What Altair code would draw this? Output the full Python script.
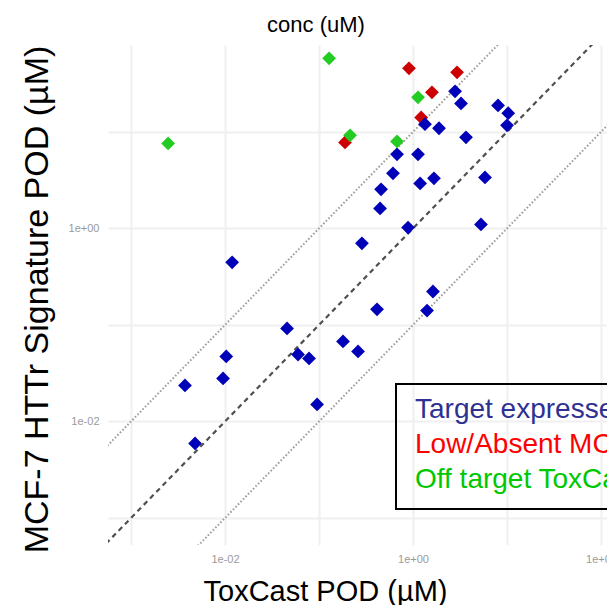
import altair as alt
import pandas as pd

# ---- data (µM) ----
blue_x = [2.80, 3.24, 8.02, 10.3, 10.0, 1.34, 1.89, 3.66, 0.676, 1.13, 0.612, 1.19,
          1.67, 5.83, 0.457, 0.446, 0.885, 5.28, 0.286, 0.0119, 1.63, 0.414, 1.41,
          0.0457, 0.180, 0.0598, 0.0783, 0.260, 0.0103, 0.00953, 0.00375, 0.0953, 0.00480]
blue_y = [26.3, 19.7, 18.8, 15.6, 11.7, 12.0, 10.9, 8.77, 5.85, 5.85, 3.72, 2.92,
          3.30, 3.37, 2.54, 1.61, 1.02, 1.10, 0.700, 0.445, 0.222, 0.145, 0.141,
          0.0920, 0.0675, 0.0494, 0.0450, 0.0531, 0.0472, 0.0279, 0.0236, 0.0150, 0.00592]
red_x = [0.906, 2.94, 1.59, 1.22, 0.189]
red_y = [45.5, 41.4, 25.7, 14.1, 7.78]
green_x = [0.128, 0.00248, 0.214, 0.676, 1.13]
green_y = [57.8, 7.60, 9.2, 7.97, 22.8]

groups = ["Low/Absent", "Target", "Off target"]
group_colors = ["#CC0000", "#0000B8", "#22CC22"]

legend_labels = ["Target expressed in MCF-7 cells",
                 "Low/Absent MCF-7 expression",
                 "Off target ToxCast assays"]
legend_colors = ["#2E3192", "#FF0000", "#00C800"]

df = pd.DataFrame({
    "toxcast": red_x + blue_x + green_x,
    "httr": red_y + blue_y + green_y,
    "group": ["Low/Absent"] * len(red_x) + ["Target"] * len(blue_x) + ["Off target"] * len(green_x),
})
df["order"] = df["group"].map({g: i for i, g in enumerate(groups)})

# reference lines: y = x, y = 10x, y = x/10
ref = pd.DataFrame({
    "x": [1e-4, 1e3] * 3,
    "y": [1e-4, 1e3, 1e-3, 1e4, 1e-5, 1e2],
    "kind": ["equal", "equal", "upper", "upper", "lower", "lower"],
})

XMIN, XMAX = 10 ** -3.245, 10 ** 2.0636
YMIN, YMAX = 10 ** -3.28, 10 ** 1.9

x_scale = alt.Scale(type="log", domain=[XMIN, XMAX], nice=False)
y_scale = alt.Scale(type="log", domain=[YMIN, YMAX], nice=False)

FONT = "Liberation Sans"

x_axis = alt.Axis(
    values=[0.001, 0.01, 0.1, 1, 10, 100],
    labelExpr="datum.value == 0.01 ? '1e-02' : datum.value == 1 ? '1e+00' : datum.value == 100 ? '1e+02' : ''",
    ticks=False, domain=False, grid=True, gridColor="#F0F0F0", gridWidth=2,
    labelColor="#9A9A9A", labelFontSize=11, labelFont=FONT, labelPadding=8,
    labelOverlap=False, labelFlush=False,
    title="ToxCast POD (µM)", titleFont=FONT, titleFontSize=29, titleFontWeight="normal",
    titleColor="black", titleX=217, titleY=55, titleBaseline="alphabetic",
)
y_axis = alt.Axis(
    values=[0.001, 0.01, 0.1, 1, 10],
    labelExpr="datum.value == 0.01 ? '1e-02' : datum.value == 1 ? '1e+00' : ''",
    ticks=False, domain=False, grid=True, gridColor="#F0F0F0", gridWidth=2,
    labelColor="#9A9A9A", labelFontSize=11, labelFont=FONT, labelPadding=9,
    labelOverlap=False, labelFlush=False,
    title="MCF-7 HTTr Signature POD (µM)", titleFont=FONT, titleFontSize=34,
    titleFontWeight="normal", titleColor="black", titleX=-61, titleY=254,
    titleBaseline="alphabetic", titleAngle=270,
)

base_ref = alt.Chart(ref)
equal_line = base_ref.transform_filter("datum.kind == 'equal'").mark_line(
    clip=True, color="#505050", strokeWidth=2.2, strokeDash=[5, 4]
).encode(x=alt.X("x:Q", scale=x_scale, axis=x_axis), y=alt.Y("y:Q", scale=y_scale, axis=y_axis))
upper_line = base_ref.transform_filter("datum.kind == 'upper'").mark_line(
    clip=True, color="#9E9E9E", strokeWidth=2, strokeDash=[1.6, 2]
).encode(x="x:Q", y="y:Q")
lower_line = base_ref.transform_filter("datum.kind == 'lower'").mark_line(
    clip=True, color="#9E9E9E", strokeWidth=2, strokeDash=[1.6, 2]
).encode(x="x:Q", y="y:Q")

points = alt.Chart(df).mark_point(shape="diamond", filled=True, size=190, opacity=1).encode(
    x=alt.X("toxcast:Q", scale=x_scale),
    y=alt.Y("httr:Q", scale=y_scale),
    color=alt.Color("group:N", scale=alt.Scale(domain=groups, range=group_colors), legend=None),
    order=alt.Order("order:Q"),
)

title_txt = alt.Chart(pd.DataFrame({"t": ["conc (uM)"]})).mark_text(
    font=FONT, fontSize=22, color="black", align="center", baseline="middle"
).encode(text="t:N", x=alt.value(208), y=alt.value(-20))

legend_box = alt.Chart(pd.DataFrame({"t": [0]})).mark_rect(
    fill=None, fillOpacity=0, stroke="black", strokeWidth=2
).encode(x=alt.value(288), x2=alt.value(600), y=alt.value(339), y2=alt.value(464))

legend_layers = []
for i, (lab, col) in enumerate(zip(legend_labels, legend_colors)):
    legend_layers.append(
        alt.Chart(pd.DataFrame({"t": [lab]})).mark_text(
            font=FONT, fontSize=28, color=col, align="left", baseline="middle"
        ).encode(text="t:N", x=alt.value(307), y=alt.value(365 + 35 * i))
    )

chart = alt.layer(
    equal_line, upper_line, lower_line, points, title_txt, legend_box, *legend_layers
).properties(
    width=499, height=500,
    autosize=alt.AutoSizeParams(type="none"),
    padding={"left": 100, "top": 37, "right": 0, "bottom": 60},
    background="white",
).configure_view(stroke=None)

chart.save("out.html", embed_options={"renderer": "svg", "actions": False})
